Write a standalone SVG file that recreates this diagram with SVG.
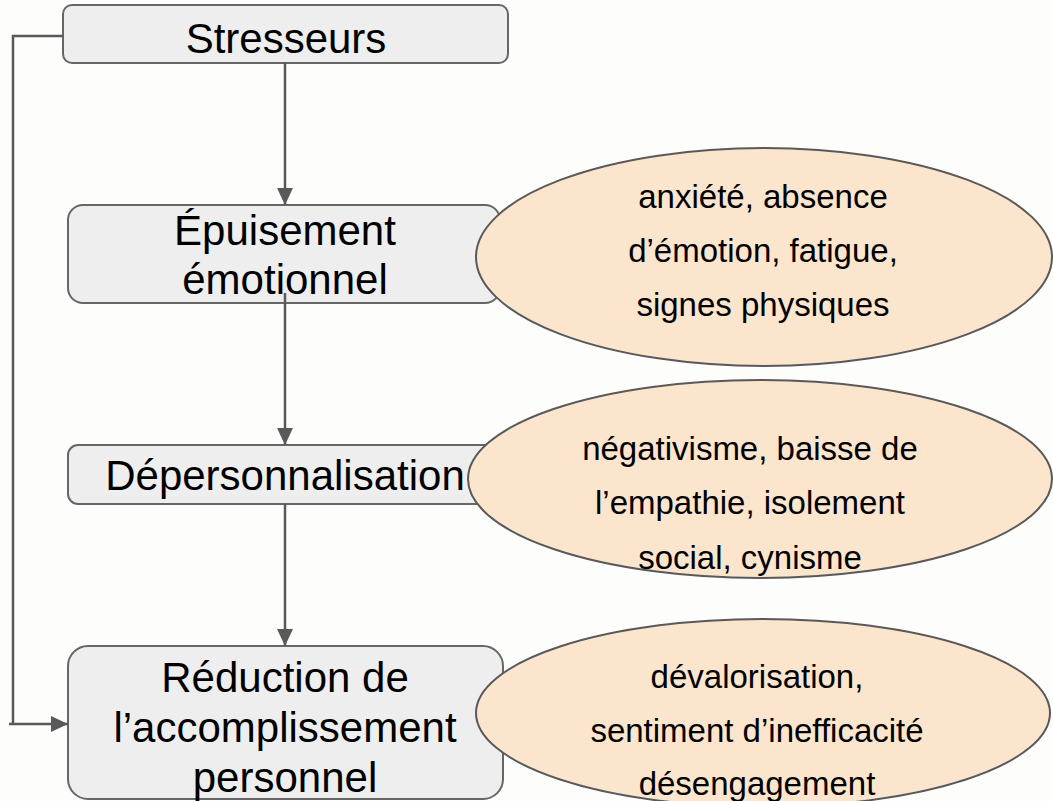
<svg xmlns="http://www.w3.org/2000/svg" width="1053" height="801" viewBox="0 0 1053 801">
<defs>
<style>
.box{fill:#eeeeef;stroke:#666666;stroke-width:2}
.ell{fill:#fce5cd;stroke:#595959;stroke-width:2}
.bt{font-family:"Liberation Sans",Arial,sans-serif;font-size:42px;fill:#000;text-anchor:middle}
.et{font-family:"Liberation Sans",Arial,sans-serif;font-size:33px;fill:#000;text-anchor:middle}
.con{fill:none;stroke:#595959;stroke-width:2.5}
</style>
<marker id="arr" markerUnits="userSpaceOnUse" markerWidth="18" markerHeight="18" viewBox="0 0 18 18" refX="17" refY="9" orient="auto">
<path d="M0,1 L17,9 L0,17 Z" fill="#595959"/>
</marker>
</defs>
<rect width="1053" height="801" fill="#fdfdfc"/>
<g id="n-stresseurs">
<rect class="box" x="63" y="5" width="445" height="58" rx="9"/>
<text class="bt" x="286" y="53">Stresseurs</text>
</g>
<g id="n-epuisement">
<rect class="box" x="68" y="205" width="432" height="98" rx="15"/>
<text class="bt" x="285" y="245">Épuisement</text>
<text class="bt" x="285" y="294">émotionnel</text>
</g>
<g id="n-depersonnalisation">
<rect class="box" x="68" y="445" width="432" height="59" rx="10"/>
<text class="bt" x="285" y="490">Dépersonnalisation</text>
</g>
<g id="n-reduction">
<rect class="box" x="68" y="646" width="435" height="153" rx="20"/>
<text class="bt" x="285" y="692">Réduction de</text>
<text class="bt" x="285" y="742">l’accomplissement</text>
<text class="bt" x="285" y="792">personnel</text>
</g>
<g id="connectors">
<path class="con" d="M285,63 V205" marker-end="url(#arr)"/>
<path class="con" d="M285,293 V445" marker-end="url(#arr)"/>
<path class="con" d="M285,504 V646" marker-end="url(#arr)"/>
<path class="con" d="M63,36 H13 V724"/>
<path class="con" d="M9,724 H68" marker-end="url(#arr)"/>
</g>
<g id="e-epuisement">
<ellipse class="ell" cx="764" cy="257" rx="288" ry="109"/>
<text class="et" x="763" y="208">anxiété, absence</text>
<text class="et" x="763" y="262">d’émotion, fatigue,</text>
<text class="et" x="763" y="316">signes physiques</text>
</g>
<g id="e-depersonnalisation">
<ellipse class="ell" cx="760" cy="479" rx="292" ry="99"/>
<text class="et" x="750" y="460">négativisme, baisse de</text>
<text class="et" x="750" y="514">l’empathie, isolement</text>
<text class="et" x="750" y="569">social, cynisme</text>
</g>
<g id="e-reduction">
<ellipse class="ell" cx="763" cy="713" rx="287" ry="94"/>
<text class="et" x="757" y="688">dévalorisation,</text>
<text class="et" x="757" y="742">sentiment d’inefficacité</text>
<text class="et" x="757" y="795">désengagement</text>
</g>
</svg>
